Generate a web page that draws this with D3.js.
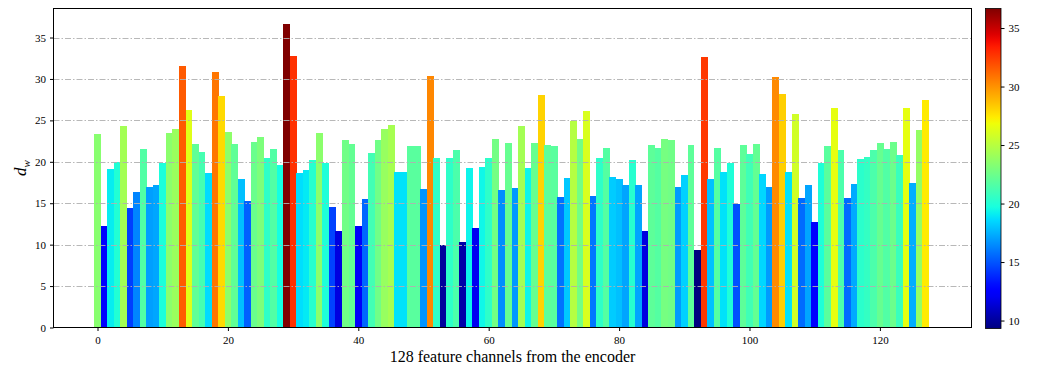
<!DOCTYPE html>
<html>
  <head>
    <meta charset="utf-8">
    <title>128 feature channels</title>
    <script src="https://d3js.org/d3.v7.min.js"></script>
    <style>
      body { margin: 0; background: #fff; }
      svg text { font-family: "Liberation Serif", "Times New Roman", serif; fill: #000; }
    </style>
  </head>
  <body>
    <svg></svg>
    <script>
      // valores, um por canal (0..127)
      const values = [
        23.4, 12.3, 19.1, 20.0, 24.3, 14.4, 16.3, 21.6, 17.0, 17.2,
        19.8, 23.5, 24.0, 31.6, 26.3, 22.1, 21.2, 18.6, 30.8, 27.9,
        23.6, 22.1, 17.9, 15.3, 22.4, 23.0, 20.4, 21.6, 19.6, 36.67,
        32.8, 18.7, 19.0, 20.2, 23.5, 19.9, 14.5, 11.6, 22.6, 22.2,
        12.2, 15.5, 21.1, 22.6, 23.9, 24.4, 18.8, 18.8, 21.85, 21.85,
        16.7, 30.3, 20.5, 10.0, 20.4, 21.4, 10.3, 19.3, 12.0, 19.4,
        20.4, 22.7, 16.55, 22.3, 16.8, 24.3, 19.3, 22.3, 28.1, 22.0,
        21.85, 15.8, 18.1, 24.9, 22.7, 26.1, 15.9, 20.4, 21.7, 18.2,
        17.9, 17.15, 20.2, 17.15, 11.6, 22.0, 21.7, 22.8, 22.6, 16.9,
        18.35, 22.0, 9.32, 32.6, 17.9, 21.7, 18.8, 19.9, 14.9, 22.0,
        21.0, 22.2, 18.5, 16.9, 30.2, 28.2, 18.8, 25.8, 15.6, 17.15,
        12.7, 19.9, 21.85, 26.55, 21.4, 15.6, 17.3, 20.3, 20.6, 21.4,
        22.3, 21.6, 22.45, 20.8, 26.55, 17.4, 23.8, 27.4
      ]
      const channels = d3.range(values.length)

      const xTicks = [0, 20, 40, 60, 80, 100, 120]
      const yTicks = [0, 5, 10, 15, 20, 25, 30, 35]
      const cbTicks = [10, 15, 20, 25, 30, 35]

      const W = 1038, H = 368
      const plot = { left: 53.5, right: 971.5, top: 8.5, bottom: 327.5 }
      const cb = { left: 985.5, right: 1001, top: 8.5, bottom: 328.5 }
      const font = '"Liberation Serif", "Times New Roman", serif'

      const vmin = d3.min(values), vmax = d3.max(values)

      // colormap jet (mesmos pontos do matplotlib)
      const red = d3.scaleLinear().domain([0, 0.35, 0.66, 0.89, 1]).range([0, 0, 1, 1, 0.5]).clamp(true)
      const green = d3.scaleLinear().domain([0, 0.125, 0.375, 0.64, 0.91, 1]).range([0, 0, 1, 1, 0, 0]).clamp(true)
      const blue = d3.scaleLinear().domain([0, 0.11, 0.34, 0.65, 1]).range([0.5, 1, 1, 0, 0]).clamp(true)
      const jet = t => d3.rgb(red(t) * 255, green(t) * 255, blue(t) * 255).formatHex()
      const norm = d3.scaleLinear().domain([vmin, vmax]).clamp(true)
      const color = v => jet(norm(v))

      const svg = d3.select('svg')
        .attr('width', W)
        .attr('height', H)

      // barras encostadas (largura 1), margem de 5% em x, topo = max*1.05
      const span = values.length
      const pad = span * 0.05
      const x = d3.scaleLinear()
        .domain([-0.5 - pad + 0.15, values.length - 0.5 + pad + 0.15])
        .range([plot.left, plot.right])
      const y = d3.scaleLinear()
        .domain([0, vmax * 1.05])
        .range([plot.bottom, plot.top])

      const barW = x(1) - x(0)

      svg.append('g')
        .attr('shape-rendering', 'crispEdges')
        .selectAll('rect')
        .data(channels)
        .join('rect')
          .attr('x', i => x(i) - barW / 2)
          .attr('y', i => y(values[i]))
          .attr('width', barW + 0.4)
          .attr('height', i => y(0) - y(values[i]))
          .attr('fill', i => color(values[i]))

      // grade por cima das barras
      svg.append('g')
        .selectAll('line')
        .data(yTicks.filter(d => d > 0))
        .join('line')
          .attr('x1', plot.left)
          .attr('x2', plot.right)
          .attr('y1', d => Math.round(y(d)) + 0.5)
          .attr('y2', d => Math.round(y(d)) + 0.5)
          .attr('stroke', '#b0b0b0')
          .attr('stroke-width', 0.9)
          .attr('stroke-dasharray', '6,2,1.5,2')

      // eixos
      const styleAxis = g => {
        g.select('.domain').remove()
        g.attr('font-family', font)
        g.selectAll('text').attr('font-size', 11).style('font-family', font)
      }

      svg.append('g')
        .attr('transform', `translate(0,${plot.bottom})`)
        .call(d3.axisBottom(x).tickValues(xTicks).tickSize(3.5).tickPadding(5))
        .call(styleAxis)

      svg.append('g')
        .attr('transform', `translate(${plot.left},0)`)
        .call(d3.axisLeft(y).tickValues(yTicks).tickSize(3.5).tickPadding(4))
        .call(styleAxis)

      svg.append('rect')
        .attr('x', plot.left)
        .attr('y', plot.top)
        .attr('width', plot.right - plot.left)
        .attr('height', plot.bottom - plot.top)
        .attr('fill', 'none')
        .attr('stroke', '#000')
        .attr('stroke-width', 1)

      // rótulos
      svg.append('text')
        .attr('x', (plot.left + plot.right) / 2)
        .attr('y', 362)
        .attr('text-anchor', 'middle')
        .attr('font-size', 16)
        .text('128 feature channels from the encoder')

      const ylab = svg.append('text')
        .attr('transform', 'translate(26,168) rotate(-90)')
        .attr('text-anchor', 'middle')
        .attr('font-size', 17)
        .attr('font-style', 'italic')
      ylab.append('tspan').text('d')
      ylab.append('tspan').attr('font-size', 11).attr('dy', 4).text('w')

      // barra de cores
      const defs = svg.append('defs')
      const grad = defs.append('linearGradient')
        .attr('id', 'jet')
        .attr('x1', 0).attr('y1', 1).attr('x2', 0).attr('y2', 0)
      grad.selectAll('stop')
        .data(d3.range(0, 1.0001, 0.02))
        .join('stop')
          .attr('offset', d => d)
          .attr('stop-color', d => jet(d))

      const cy = d3.scaleLinear().domain([vmin, vmax]).range([cb.bottom, cb.top])
      svg.append('rect')
        .attr('x', cb.left)
        .attr('y', cb.top)
        .attr('width', cb.right - cb.left)
        .attr('height', cb.bottom - cb.top)
        .attr('fill', 'url(#jet)')
        .attr('stroke', '#000')
        .attr('stroke-width', 0.8)

      svg.append('g')
        .attr('transform', `translate(${cb.right},0)`)
        .call(d3.axisRight(cy).tickValues(cbTicks).tickSize(3.5).tickPadding(4))
        .call(styleAxis)
    </script>
  </body>
</html>
